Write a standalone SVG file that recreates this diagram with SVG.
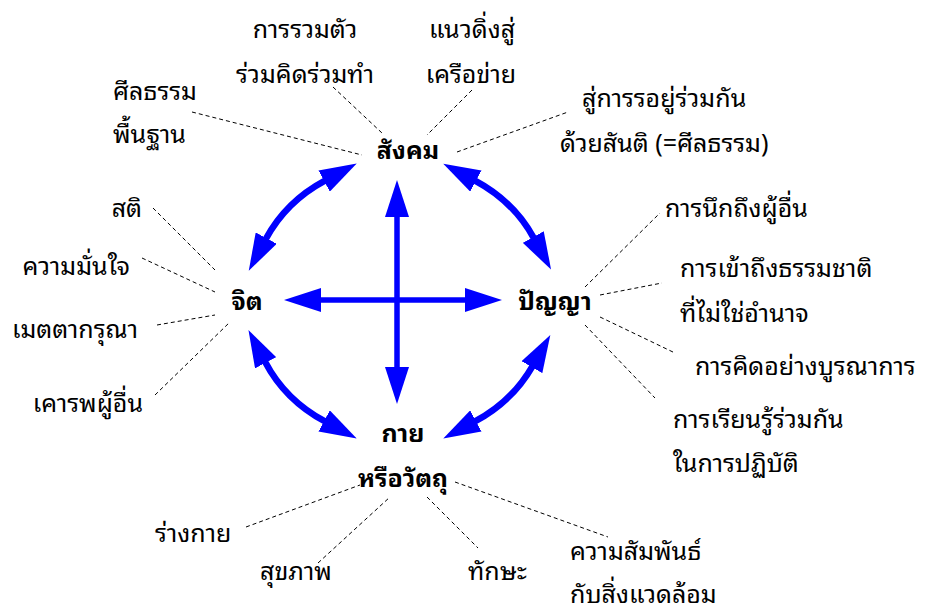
<svg xmlns="http://www.w3.org/2000/svg" width="925" height="612" viewBox="0 0 925 612">
<style>
.t{font-family:"Noto Sans Thai Looped","Loma","Tahoma","Garuda","Noto Sans Thai","Noto Sans",sans-serif;font-size:25px;fill:#000}
.n{font-family:"Noto Sans Thai Looped","Loma","Tahoma","Garuda","Noto Sans Thai","Noto Sans",sans-serif;font-size:25px;font-weight:bold;fill:#000;text-anchor:middle}
.m{text-anchor:middle}
.e{text-anchor:end}
.d{stroke:#000;stroke-width:1;stroke-dasharray:4 3;fill:none}
.s{stroke:#0000FF;stroke-width:5.5;fill:none;marker-start:url(#ah);marker-end:url(#ah)}
.a{stroke:#0000FF;stroke-width:6.5;fill:none;marker-start:url(#ah);marker-end:url(#ah)}
</style>
<defs>
<marker id="ah" markerUnits="userSpaceOnUse" markerWidth="38" markerHeight="24" refX="1" refY="12" orient="auto-start-reverse" viewBox="0 0 38 24">
<path d="M0,0 L37,12 L0,24 Z" fill="#0000FF"/>
</marker>
</defs>
<g id="connectors">
<path class="s" d="M397,216 V368"/>
<path class="s" d="M320,300 H466"/>
<path class="a" d="M265.8,239 A150,139 0 0 1 325,180.6"/>
<path class="a" d="M475,180.6 A150,139 0 0 1 533.7,237.9"/>
<path class="a" d="M532.4,366.3 A150,139 0 0 1 475,421.4"/>
<path class="a" d="M325,421.4 A150,139 0 0 1 265.2,361.9"/>
<path class="d" d="M192,112 L362,155"/>
<path class="d" d="M333,87 L382,133"/>
<path class="d" d="M472,90 L427,135"/>
<path class="d" d="M457,152 L568,112"/>
<path class="d" d="M585,287 L660,213"/>
<path class="d" d="M600,295 L662,283"/>
<path class="d" d="M600,317 L675,353"/>
<path class="d" d="M585,325 L655,398"/>
<path class="d" d="M153,208 L215,270"/>
<path class="d" d="M142,258 L215,292"/>
<path class="d" d="M157,325 L215,315"/>
<path class="d" d="M155,395 L230,322"/>
<path class="d" d="M246,527 L360,485"/>
<path class="d" d="M318,563 L390,497"/>
<path class="d" d="M427,497 L478,548"/>
<path class="d" d="M455,482 L608,537"/>
</g>
<g id="node-society"><text class="n" x="408" y="159">สังคม</text></g>
<g id="node-mind"><text class="n" x="247" y="310">จิต</text></g>
<g id="node-wisdom"><text class="n" x="555" y="310">ปัญญา</text></g>
<g id="node-body"><text class="n" x="403" y="442">กาย</text><text class="n" x="403" y="487">หรือวัตถุ</text></g>
<g id="label-cooperate"><text class="t m" x="305" y="38">การรวมตัว</text><text class="t m" x="305" y="83">ร่วมคิดร่วมทำ</text></g>
<g id="label-vertical"><text class="t m" x="472" y="38">แนวดิ่งสู่</text><text class="t m" x="471" y="83">เครือข่าย</text></g>
<g id="label-basic-ethics"><text class="t" x="113" y="100">ศีลธรรม</text><text class="t" x="113" y="143">พื้นฐาน</text></g>
<g id="label-peace"><text class="t" x="582" y="107">สู่การรอยู่ร่วมกัน</text><text class="t" x="560" y="152">ด้วยสันติ (=ศีลธรรม)</text></g>
<g id="label-others"><text class="t" x="665" y="217">การนึกถึงผู้อื่น</text></g>
<g id="label-nature"><text class="t" x="680" y="277">การเข้าถึงธรรมชาติ</text><text class="t" x="680" y="322">ที่ไม่ใช่อำนาจ</text></g>
<g id="label-holistic"><text class="t" x="695" y="375">การคิดอย่างบูรณาการ</text></g>
<g id="label-learning"><text class="t" x="673" y="428">การเรียนรู้ร่วมกัน</text><text class="t" x="673" y="472">ในการปฏิบัติ</text></g>
<g id="label-sati"><text class="t e" x="142" y="217">สติ</text></g>
<g id="label-confidence"><text class="t e" x="130" y="275">ความมั่นใจ</text></g>
<g id="label-compassion"><text class="t e" x="138" y="338">เมตตากรุณา</text></g>
<g id="label-respect"><text class="t e" x="143" y="412">เคารพผู้อื่น</text></g>
<g id="label-physical"><text class="t" x="155" y="542">ร่างกาย</text></g>
<g id="label-health"><text class="t" x="260" y="580">สุขภาพ</text></g>
<g id="label-skill"><text class="t" x="468" y="580">ทักษะ</text></g>
<g id="label-environment"><text class="t" x="570" y="560">ความสัมพันธ์</text><text class="t" x="570" y="603">กับสิ่งแวดล้อม</text></g>
</svg>
